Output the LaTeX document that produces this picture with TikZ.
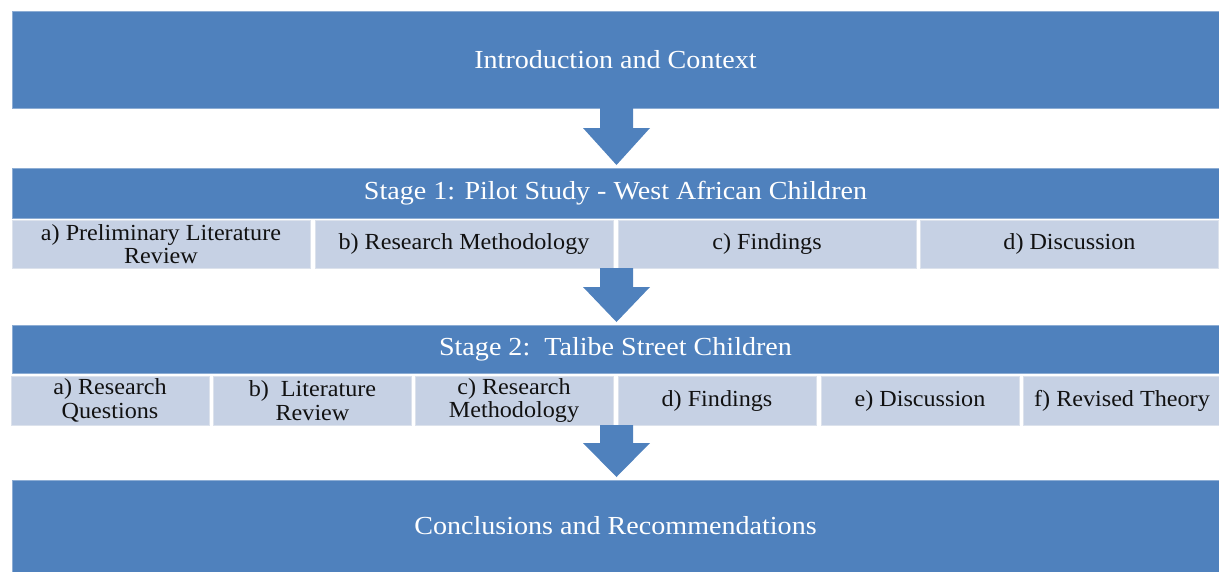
\documentclass[tikz,border=0pt]{standalone}
\usepackage{fontspec}
\setmainfont{Liberation Serif}
\newfontfamily\titlefont[FakeStretch=1.08]{Liberation Serif}
\newfontfamily\subfont[FakeStretch=1.05]{Liberation Serif}
\usetikzlibrary{calc}
\definecolor{mainblue}{HTML}{4F81BD}
\definecolor{lightbox}{HTML}{C6D1E4}
\definecolor{boxedge}{HTML}{DCE2EC}
\definecolor{subtext}{HTML}{111111}
\newcommand{\blockarr}[3]{%
  \fill[mainblue] let \p1=(ax |- #1), \p2=(ax |- #2) in
   (\x1-16.5pt,\y1) -- (\x1+16.5pt,\y1) -- (\x1+16.5pt,\y1-#3) -- (\x1+33.5pt,\y1-#3)
   -- (\x2,\y2+3pt) -- (\x1-33.5pt,\y1-#3) -- (\x1-16.5pt,\y1-#3) -- cycle;}
\begin{document}
\begin{tikzpicture}[x=1pt,y=-1pt,
  bar/.style={fill=mainblue, draw=mainblue!65!white, line width=0.8pt, inner sep=0pt, outer sep=0pt,
    text=white, font=\titlefont\fontsize{26}{28}\selectfont},
  sub/.style={fill=lightbox, draw=boxedge, line width=1pt, inner sep=0pt, outer sep=0pt,
    text=subtext, align=center, font=\subfont\fontsize{23}{23.5}\selectfont}]
\useasboundingbox (0,0) rectangle (1219,571);
\coordinate (ax) at (616.5,0);
% bars
\node[bar, minimum width=1207pt, minimum height=97pt] (intro) at (615.5,59.5) {Introduction and Context};
\node[bar, minimum width=1207pt, minimum height=50pt] (s1) at (615.5,193) {Stage 1: Pilot Study - West African Children};
\node[bar, minimum width=1207pt, minimum height=48pt] (s2) at (615.5,349) {Stage 2:\ \ Talibe Street Children};
\node[bar, minimum width=1207pt, minimum height=92pt] (concl) at (615.5,526) {Conclusions and Recommendations};
% stage 1 sub-boxes
\node[sub, minimum width=298pt, minimum height=48pt] (s1a) at (161,244) {a) Preliminary Literature\\Review};
\node[sub, minimum width=298pt, minimum height=48pt] (s1b) at (464,244) {b) Research Methodology};
\node[sub, minimum width=298pt, minimum height=48pt] (s1c) at (767,244) {c) Findings};
\node[sub, minimum width=298pt, minimum height=48pt] (s1d) at (1069.5,244) {d) Discussion};
% stage 2 sub-boxes
\node[sub, minimum width=198pt, minimum height=49pt] (s2a) at (110,400.5) {a) Research\\Questions};
\node[sub, minimum width=198pt, minimum height=49pt] (s2b) at (312.5,400.5) {b)\ \ Literature\\Review};
\node[sub, minimum width=198pt, minimum height=49pt] (s2c) at (514,400.5) {c) Research\\Methodology};
\node[sub, minimum width=198pt, minimum height=49pt] (s2d) at (717,400.5) {d) Findings};
\node[sub, minimum width=198pt, minimum height=49pt] (s2e) at (920,400.5) {e) Discussion};
\node[sub, minimum width=198pt, minimum height=49pt] (s2f) at (1122,400.5) {f) Revised Theory};
% block arrows
\blockarr{intro.south}{s1.north}{20pt}
\blockarr{s1c.south}{s2.north}{19pt}
\blockarr{s2c.south}{concl.north}{18pt}
\end{tikzpicture}
\end{document}
